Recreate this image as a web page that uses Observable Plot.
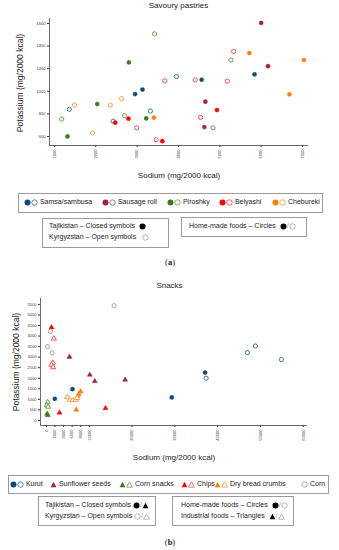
<!DOCTYPE html>
<html><head><meta charset="utf-8">
<script src="https://cdn.jsdelivr.net/npm/d3@7"></script>
<script src="https://cdn.jsdelivr.net/npm/@observablehq/plot@0.6"></script>
<style>
body{margin:0;background:#fff;}
#root{position:relative;width:339px;height:550px;font-family:"Liberation Sans",Arial,sans-serif;color:#222;overflow:hidden;}
.box{position:absolute;border:1px solid #9a9a9a;box-sizing:border-box;background:#fff;}
.lt{position:absolute;font-size:7px;white-space:nowrap;line-height:8px;}
.lt svg{vertical-align:middle;}
.title{position:absolute;font-size:8px;text-align:center;width:339px;left:0;}
.ylab{position:absolute;font-size:8.5px;white-space:nowrap;transform:translate(-50%,-50%) rotate(-90deg);}
.xlab{position:absolute;font-size:8px;white-space:nowrap;transform:translateX(-50%);}
.cap{position:absolute;font-family:"Liberation Serif","Times New Roman",serif;font-size:8.5px;transform:translateX(-50%);}
</style></head>
<body><div id="root"></div>
<script>
// ---------- Panel (a): Savoury pastries  [sodium, potassium] ----------
const pastryCategories = ["Samsa/sambusa", "Sausage roll", "Piroshky", "Belyashi", "Chebureki"];
const samsaTJ = [[2950,975],[3130,1015],[4560,1102],[5840,1150]];
const samsaKG = [[1360,840],[3950,1130],[3320,825],[2420,735]];
const sausageTJ = [[6000,1605],[6165,1222],[4650,908],[4625,683]];
const sausageKG = [[3670,1092],[4405,1100],[2990,677],[4835,677]];
const piroshkyTJ = [[2800,1255],[2035,887],[3220,760],[1315,600]];
const piroshkyKG = [[3420,1508],[5270,1276],[2695,784],[1175,754]];
const belyashiTJ = [[2470,722],[2790,757],[4930,834],[3610,558]];
const belyashiKG = [[5335,1353],[5180,1089],[4535,769],[3460,571]];
const cheburekiTJ = [[5715,1338],[7035,1276],[6685,973],[3405,766]];
const cheburekiKG = [[1485,878],[2350,878],[2620,935],[1920,630]];
const pastryXTicks = [1000,2000,3000,4000,5000,6000,7000];
const pastryYTicks = [600,800,1000,1200,1400,1600];

// ---------- Panel (b): Snacks  [sodium, potassium] ----------
const snackCategories = ["Kurut", "Sunflower seeds", "Corn snacks", "Chips", "Dry bread crumbs", "Corn"];
const kurutTJ = [[6070,1480],[1950,1025],[29280,1090],[37070,2270]];
const kurutKG = [[37300,2000],[46950,3215],[48820,3530],[54900,2885]];
const sunflowerTJ = [[5370,3010],[10120,2160],[11290,1860],[18380,1925]];
const cornSnacksTJ = [[150,310],[300,240]];
const cornSnacksKG = [[250,860],[100,720],[400,650]];
const chipsTJ = [[1170,4410],[3040,365],[13790,580]];
const chipsKG = [[1710,3880],[1480,2730],[1170,2640],[1560,2520]];
const breadTJ = [[7950,1370],[7550,1250],[7300,1150],[6950,505]];
const breadKG = [[4840,1100],[5450,980],[6150,960],[6850,980],[7150,1060]];
const cornKG = [[15810,5440],[930,4225],[230,3500],[1330,3200]];
const snackXTicks = [0,2000,4000,6000,8000,10000,20000,30000,40000,50000,60000];
const snackYTicks = [0,500,1000,1500,2000,2500,3000,3500,4000,4500,5000,5500];

// colours
const C = {
  blue:["#0d4a7b","#3a78b0"], crimson:["#a3233c","#cc5a70"], green:["#3b7a1f","#6da352"],
  red:["#ff0000","#ff4a5a"], orange:["#ff7f00","#ffa040"], grey:["#9a9a9a","#a8a8a8"]
};

const pastrySeries = [
  {d:samsaTJ,c:C.blue,open:false},{d:samsaKG,c:C.blue,open:true},
  {d:sausageTJ,c:C.crimson,open:false},{d:sausageKG,c:C.crimson,open:true},
  {d:piroshkyTJ,c:C.green,open:false},{d:piroshkyKG,c:C.green,open:true},
  {d:belyashiTJ,c:C.red,open:false},{d:belyashiKG,c:C.red,open:true},
  {d:cheburekiTJ,c:C.orange,open:false},{d:cheburekiKG,c:C.orange,open:true}
];
const snackSeries = [
  {d:kurutTJ,c:C.blue,open:false,s:"circle"},{d:kurutKG,c:C.blue,open:true,s:"circle"},
  {d:sunflowerTJ,c:C.crimson,open:false,s:"triangle"},
  {d:cornSnacksTJ,c:C.green,open:false,s:"triangle"},{d:cornSnacksKG,c:C.green,open:true,s:"triangle"},
  {d:chipsTJ,c:C.red,open:false,s:"triangle"},{d:chipsKG,c:C.red,open:true,s:"triangle"},
  {d:breadTJ,c:C.orange,open:false,s:"triangle"},{d:breadKG,c:C.orange,open:true,s:"triangle"},
  {d:cornKG,c:C.grey,open:true,s:"circle"}
];

function dotMarks(series){
  return series.map(s => Plot.dot(s.d, {
    x: d => d[0], y: d => d[1], r: s.s === "triangle" ? 1.9 : 2.1,
    symbol: s.s || "circle",
    fill: s.open ? "white" : s.c[0],
    stroke: s.open ? s.c[1] : s.c[0],
    strokeWidth: s.open ? 1 : 0.4
  }));
}

const root = document.getElementById("root");
function add(html){ root.insertAdjacentHTML("beforeend", html); }
function place(el, left, top){ el.style.position="absolute"; el.style.left=left+"px"; el.style.top=top+"px"; root.appendChild(el); }

const axisStyle = {fontSize:"4px", fontFamily:"Liberation Sans, Arial, sans-serif", color:"#333", background:"transparent", overflow:"visible"};

// Panel (a)
const plotA = Plot.plot({
  width:339, height:185, marginTop:18, marginBottom:40, marginLeft:49, marginRight:31,
  style: axisStyle,
  x:{domain:[880,7145], ticks:pastryXTicks, tickFormat:d=>String(d), tickRotate:-90, tickSize:2, tickPadding:2, label:null},
  y:{domain:[520,1644], ticks:pastryYTicks, tickFormat:d=>String(d), tickSize:2, tickPadding:2, label:null},
  marks:[
    Plot.ruleX([880], {stroke:"#444", strokeWidth:0.8}),
    Plot.ruleY([520], {stroke:"#444", strokeWidth:0.8}),
    ...dotMarks(pastrySeries)
  ]
});
place(plotA, 0, 0);

// Panel (b)
const plotB = Plot.plot({
  width:339, height:190, marginTop:28, marginBottom:35, marginLeft:40, marginRight:32,
  style: axisStyle,
  x:{domain:[-1400,61000], ticks:snackXTicks, tickFormat:d=>String(d), tickRotate:-90, tickSize:2, tickPadding:2, label:null},
  y:{domain:[-240,5780], ticks:snackYTicks, tickFormat:d=>String(d), tickSize:2, tickPadding:2, label:null},
  marks:[
    Plot.ruleX([-1400], {stroke:"#444", strokeWidth:0.8}),
    Plot.ruleY([-240], {stroke:"#444", strokeWidth:0.8}),
    ...dotMarks(snackSeries)
  ]
});
place(plotB, 0, 270);

// text panel (a)
add(`<div class="title" style="top:1px;left:9px">Savoury pastries</div>`);
add(`<div class="ylab" style="left:20px;top:83px">Potassium (mg/2000 kcal)</div>`);
add(`<div class="xlab" style="left:179px;top:171px">Sodium (mg/2000 kcal)</div>`);

function circ(color, open){ return `<svg width="7" height="7" viewBox="0 0 7 7"><circle cx="3.5" cy="3.5" r="${open?2.7:3}" fill="${open?'none':color}" stroke="${color}" stroke-width="${open?0.9:0}"/></svg>`; }
function tri(color, open){ return `<svg width="7" height="7" viewBox="0 0 7 7"><path d="M3.5 0.8 L6.4 6.2 L0.6 6.2 Z" fill="${open?'none':color}" stroke="${color}" stroke-width="${open?0.8:0}"/></svg>`; }

// legend (a)
add(`<div class="box" style="left:18px;top:193px;width:305px;height:20px"></div>`);
const legA = [[pastryCategories[0],C.blue,24],[pastryCategories[1],C.crimson,102],[pastryCategories[2],C.green,167],[pastryCategories[3],C.red,219],[pastryCategories[4],C.orange,272]];
legA.forEach(([t,c,x]) => add(`<div class="lt" style="left:${x}px;top:198px">${circ(c[0],false)}${circ(c[1],true)} ${t}</div>`));
add(`<div class="box" style="left:42px;top:218px;width:127px;height:30px"></div>`);
add(`<div class="lt" style="left:49px;top:222px">Tajikistan – Closed symbols &nbsp;${circ("#000",false)}</div>`);
add(`<div class="lt" style="left:49px;top:233px">Kyrgyzstan – Open symbols &nbsp;&nbsp;${circ("#aaa",true)}</div>`);
add(`<div class="box" style="left:181px;top:217px;width:126px;height:20px"></div>`);
add(`<div class="lt" style="left:189px;top:222px">Home-made foods – Circles &nbsp;${circ("#000",false)}<span style="color:#999">/</span>${circ("#aaa",true)}</div>`);
add(`<div class="cap" style="left:170px;top:257px">(<b>a</b>)</div>`);

// text panel (b)
add(`<div class="title" style="top:281px;left:0px">Snacks</div>`);
add(`<div class="ylab" style="left:16px;top:362px">Potassium (mg/2000 kcal)</div>`);
add(`<div class="xlab" style="left:174px;top:453px">Sodium (mg/2000 kcal)</div>`);

add(`<div class="box" style="left:8px;top:475px;width:321px;height:19px"></div>`);
const legB = [
  [`${circ(C.blue[0],false)}${circ(C.blue[1],true)} ${snackCategories[0]}`, 10],
  [`${tri(C.crimson[0],false)} ${snackCategories[1]}`, 50],
  [`${tri(C.green[0],false)}${tri(C.green[1],true)} ${snackCategories[2]}`, 119],
  [`${tri(C.red[0],false)}${tri(C.red[1],true)} ${snackCategories[3]}`, 181],
  [`${tri(C.orange[0],false)}${tri(C.orange[1],true)} ${snackCategories[4]}`, 214],
  [`${circ(C.grey[1],true)} ${snackCategories[5]}`, 301]
];
legB.forEach(([h,x]) => add(`<div class="lt" style="left:${x}px;top:480px">${h}</div>`));
add(`<div class="box" style="left:38px;top:496px;width:118px;height:30px"></div>`);
add(`<div class="lt" style="left:45px;top:501px">Tajikistan – Closed symbols ${circ("#000",false)}<span style="color:#999">/</span>${tri("#000",false)}</div>`);
add(`<div class="lt" style="left:45px;top:512px">Kyrgyzstan – Open symbols ${circ("#aaa",true)}<span style="color:#999">/</span>${tri("#aaa",true)}</div>`);
add(`<div class="box" style="left:172px;top:496px;width:122px;height:30px"></div>`);
add(`<div class="lt" style="left:181px;top:501px">Home-made foods – Circles &nbsp;${circ("#000",false)}<span style="color:#999">/</span>${circ("#aaa",true)}</div>`);
add(`<div class="lt" style="left:181px;top:512px">Industrial foods – Triangles &nbsp;${tri("#000",false)}<span style="color:#999">/</span>${tri("#aaa",true)}</div>`);
add(`<div class="cap" style="left:170px;top:537px">(<b>b</b>)</div>`);
</script>
</body></html>
